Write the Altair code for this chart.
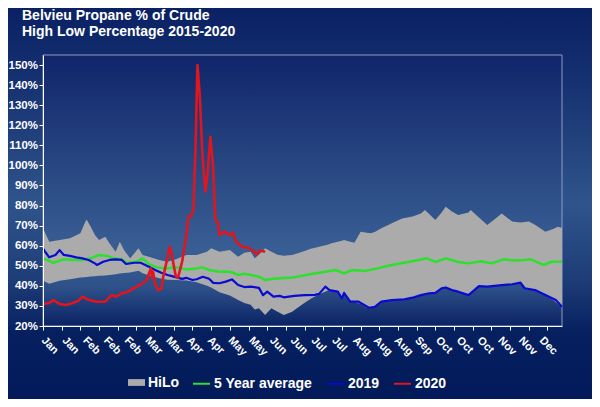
import altair as alt
import pandas as pd

# ---------------- data ----------------
hilo_x = [0, 3, 8, 13, 18, 20, 21, 23, 25, 27, 30, 32, 35, 37, 39, 42, 46, 48, 51, 56,
          60, 64, 69, 74, 79, 81, 85, 90, 94, 97, 100, 102, 104, 107, 110, 113, 116, 120, 125, 129,
          133, 137, 139, 142, 144, 145, 148, 150, 153, 156, 158, 160, 163, 168, 173, 178, 182, 184, 189, 192,
          194, 197, 200, 205, 206, 210, 214, 218, 221, 226, 230, 232, 234, 237, 242, 246, 248, 250]
hilo_high = [68.7, 62.0, 62.8, 63.7, 66.2, 71.1, 73.1, 69.5, 65.3, 62.8, 64.5, 61.2, 57.0, 62.0, 57.8, 53.7, 58.7, 55.4, 54.5, 52.9,
             52.0, 53.2, 55.4, 55.4, 57.0, 58.7, 57.0, 57.8, 54.5, 56.5, 57.0, 53.7, 55.5, 58.7, 57.0, 55.5, 55.0, 55.4, 57.0, 58.5,
             59.5, 60.5, 61.2, 62.0, 62.5, 62.8, 62.0, 61.5, 67.0, 66.5, 66.2, 67.0, 68.7, 71.2, 73.6, 74.5, 76.0, 77.8, 72.8, 76.5,
             79.4, 77.0, 75.3, 76.5, 77.8, 74.0, 70.3, 73.5, 76.1, 72.0, 71.5, 71.8, 72.0, 70.5, 67.0, 68.5, 69.5, 69.0]
hilo_low = [42.5, 41.0, 42.5, 43.3, 44.1, 44.3, 44.4, 44.6, 44.8, 45.0, 45.2, 45.4, 45.8, 46.2, 46.4, 46.6, 47.5, 46.3, 45.3, 43.8,
            43.1, 42.9, 42.7, 41.8, 40.0, 39.2, 36.8, 35.2, 33.0, 31.4, 30.6, 28.2, 28.8, 25.5, 28.8, 27.1, 25.5, 27.1, 30.8, 33.6,
            35.8, 37.5, 37.8, 36.9, 33.6, 36.2, 32.0, 32.0, 31.0, 29.0, 29.0, 29.5, 32.0, 32.8, 33.2, 34.0, 35.2, 36.0, 36.4, 38.6,
            39.0, 37.8, 37.0, 35.2, 36.5, 39.7, 39.4, 39.8, 40.2, 40.6, 41.4, 38.6, 38.0, 37.7, 35.2, 32.7, 31.0, 29.4]

avg_x = [0, 2, 5, 10, 15, 19, 23, 27, 31, 34, 38, 40, 45, 48, 51, 55, 59, 64, 69, 74,
         77, 80, 85, 88, 91, 94, 97, 100, 104, 107, 112, 120, 128, 136, 141, 145, 149, 155, 161, 168,
         174, 181, 185, 189, 194, 200, 205, 211, 216, 222, 227, 232, 235, 241, 245, 250]
avg_y = [53.7, 52.9, 51.5, 53.2, 52.9, 52.9, 53.7, 55.4, 54.9, 53.7, 53.2, 51.5, 52.0, 53.7, 50.8, 49.2, 48.7, 49.2, 48.2, 48.7,
         49.2, 47.9, 47.0, 47.2, 46.8, 45.4, 46.0, 45.4, 44.6, 42.9, 43.7, 44.1, 45.7, 47.0, 47.9, 46.2, 47.9, 47.4, 48.7, 50.4,
         51.5, 52.9, 53.7, 51.9, 53.7, 51.9, 51.2, 52.3, 51.2, 53.2, 52.6, 52.9, 53.2, 50.4, 52.0, 52.0]

y2019_x = [0, 1, 3, 6, 8, 10, 13, 16, 19, 22, 25, 26, 29, 32, 35, 38, 40, 44, 47, 51,
           54, 57, 60, 63, 67, 69, 72, 74, 77, 80, 82, 85, 88, 91, 94, 97, 100, 104, 106, 108,
           111, 114, 116, 121, 126, 131, 133, 136, 138, 142, 144, 145, 148, 152, 157, 160, 163, 168, 174, 178,
           182, 186, 189, 192, 194, 197, 200, 205, 210, 214, 221, 226, 230, 232, 237, 242, 247, 250]
y2019_y = [58.7, 57.0, 54.2, 55.4, 57.8, 55.4, 54.9, 54.2, 53.7, 52.9, 51.2, 50.4, 52.0, 52.9, 53.2, 52.9, 50.9, 51.5, 51.5, 49.5,
           47.9, 46.5, 45.4, 44.6, 43.5, 44.0, 42.9, 43.3, 44.5, 43.5, 41.5, 41.3, 42.1, 43.2, 40.4, 39.4, 39.6, 39.0, 35.4, 37.1,
           34.6, 35.0, 34.3, 35.0, 35.4, 35.5, 36.0, 39.6, 37.9, 37.1, 33.8, 36.5, 32.1, 32.1, 29.1, 29.6, 32.1, 32.9, 33.3, 34.1,
           35.4, 36.3, 36.5, 38.8, 39.2, 37.9, 37.1, 35.4, 39.9, 39.6, 40.4, 40.8, 41.6, 38.8, 37.9, 35.4, 32.9, 29.6]

y2020_x = [0, 3, 5, 8, 11, 14, 17, 19, 22, 26, 30, 33, 35, 38, 41, 45, 48, 50, 51, 52,
           52.5, 53, 54, 55.5, 57, 58, 59, 61, 62, 63, 64, 65, 67, 69, 70, 71.5, 72.5, 73.5, 74.4, 75.5,
           76.8, 78.2, 79.3, 80.6, 81.9, 83, 84.3, 85, 87.5, 90, 91.5, 93, 96, 99, 101, 103, 104.5, 107]
y2020_y = [31.0, 31.5, 32.9, 31.0, 30.5, 31.3, 32.5, 34.6, 33.0, 32.1, 32.1, 35.4, 34.6, 36.3, 37.1, 39.6, 41.2, 43.0, 46.0, 48.7,
           44.0, 47.0, 41.0, 37.9, 38.5, 45.0, 49.5, 59.5, 56.0, 50.0, 44.6, 44.0, 52.0, 64.5, 74.4, 74.8, 78.6, 110.0, 150.0, 135.0,
           105.0, 86.9, 96.0, 114.3, 100.0, 72.8, 71.5, 65.3, 67.0, 65.3, 66.5, 62.0, 59.5, 58.9, 57.6, 55.7, 57.6, 57.0]

tick_positions = list(range(0, 244, 9))
label_positions = list(range(0, 241, 10))
month_labels = ["Jan", "Jan", "Feb", "Feb", "Feb", "Mar", "Mar", "Apr", "Apr", "May", "May", "Jun", "Jun",
                "Jul", "Jul", "Aug", "Aug", "Aug", "Sep", "Oct", "Oct", "Oct", "Nov", "Nov", "Dec"]
y_ticks = list(range(20, 151, 10))
series_names = ["HiLo", "5 Year average", "2019", "2020"]

# ---------------- style ----------------
FONT = "Liberation Sans"
GRAY = "#ABABAB"
GREEN = "#2CE02C"
BLUE = "#0A0AD0"
RED = "#E0161E"
W, H = 519, 271
PAD = {"left": 35, "top": 47, "right": 30, "bottom": 73}

xscale = alt.Scale(domain=[0, 250], nice=False, zero=False)
yscale = alt.Scale(domain=[20, 155], nice=False, zero=False)
xaxis = alt.Axis(values=tick_positions, labels=False, title=None, ticks=True, tickSize=4,
                 tickColor="white", domainColor="white", grid=False, zindex=1)
yaxis = alt.Axis(values=y_ticks, labelExpr="datum.value + '%'", title=None, tickSize=4,
                 tickColor="white", domainColor="white", grid=False, labelColor="white",
                 labelFont=FONT, labelFontSize=11.5, labelFontWeight="bold", labelPadding=1.5, zindex=1)


def X():
    return alt.X("i:Q", scale=xscale, axis=xaxis)


def Y(field):
    return alt.Y(field, scale=yscale, axis=yaxis)


legend_common = dict(title=None, labelColor="white", labelFont=FONT, labelFontSize=14,
                     labelFontWeight="bold", padding=0, labelOffset=3, symbolSize=289,
                     orient="none", direction="horizontal", columnPadding=10)

fill_scale = alt.Scale(domain=[series_names[0]], range=[GRAY])
fill_legend = alt.Legend(legendX=85, legendY=319, symbolType="M-1,-0.4H1V0.4H-1Z",
                         symbolStrokeWidth=0, symbolOpacity=1, **legend_common)
stroke_scale = alt.Scale(domain=series_names[1:], range=[GREEN, BLUE, RED])
stroke_legend = alt.Legend(legendX=149, legendY=319, symbolType="stroke",
                           symbolStrokeWidth=2, **legend_common)

one = pd.DataFrame({"k": [0]})
outer_grad = alt.Gradient(gradient="linear", x1=0, x2=0, y1=0, y2=1, stops=[
    alt.GradientStop(color="#0a2163", offset=0),
    alt.GradientStop(color="#163272", offset=0.2),
    alt.GradientStop(color="#2f548b", offset=0.5),
    alt.GradientStop(color="#1d3c77", offset=0.7),
    alt.GradientStop(color="#06205f", offset=0.83),
    alt.GradientStop(color="#021a5a", offset=1)])
plot_grad = alt.Gradient(gradient="linear", x1=0, x2=0, y1=0, y2=1, stops=[
    alt.GradientStop(color="#10256a", offset=0),
    alt.GradientStop(color="#2a4a84", offset=0.45),
    alt.GradientStop(color="#395e94", offset=0.72),
    alt.GradientStop(color="#2d5089", offset=0.86),
    alt.GradientStop(color="#0b2263", offset=1)])

bg_outer = alt.Chart(one).mark_rect(fill=outer_grad).encode(
    x=alt.value(-PAD["left"]), x2=alt.value(W + PAD["right"]),
    y=alt.value(-PAD["top"]), y2=alt.value(H + PAD["bottom"]))
bg_plot = alt.Chart(one).mark_rect(fill=plot_grad, stroke="#8c9dc2", strokeWidth=1).encode(
    x=alt.value(0), x2=alt.value(W), y=alt.value(0), y2=alt.value(H))

hilo_df = pd.DataFrame({"i": hilo_x, "hi": hilo_high, "lo": hilo_low, "s": series_names[0]})
area = alt.Chart(hilo_df).mark_area(opacity=1).encode(
    x=X(), y=Y("hi:Q"), y2="lo:Q",
    fill=alt.Fill("s:N", scale=fill_scale, legend=fill_legend))


def line(xs, ys, name, width):
    df = pd.DataFrame({"i": xs, "v": ys, "s": name})
    return alt.Chart(df).mark_line(strokeWidth=width, strokeJoin="round").encode(
        x=X(), y=Y("v:Q"),
        stroke=alt.Stroke("s:N", scale=stroke_scale, legend=stroke_legend))


l_avg = line(avg_x, avg_y, series_names[1], 2.5)
l_19 = line(y2019_x, y2019_y, series_names[2], 2.2)
l_20 = line(y2020_x, y2020_y, series_names[3], 2.6)

lab_df = pd.DataFrame({"i": label_positions, "t": month_labels})
xlabels = alt.Chart(lab_df).mark_text(angle=45, align="left", baseline="middle", color="white",
                                      font=FONT, fontSize=11, fontWeight="bold").encode(
    x=X(), y=alt.value(H + 13), text="t:N")

chart = alt.layer(bg_outer, bg_plot, area, l_avg, l_19, l_20, xlabels).properties(
    width=W, height=H, padding=PAD,
    autosize=alt.AutoSizeParams(type="none"),
    background="#031c5e",
    title=alt.TitleParams(text=["Belvieu Propane % of Crude", "High Low Percentage 2015-2020"],
                          anchor="start", frame="group", dx=-21, offset=-31, color="white",
                          font=FONT, fontSize=14, fontWeight="bold", lineHeight=16),
).configure_view(strokeWidth=0)

chart.save("out.html", embed_options={"renderer": "svg", "actions": False})
